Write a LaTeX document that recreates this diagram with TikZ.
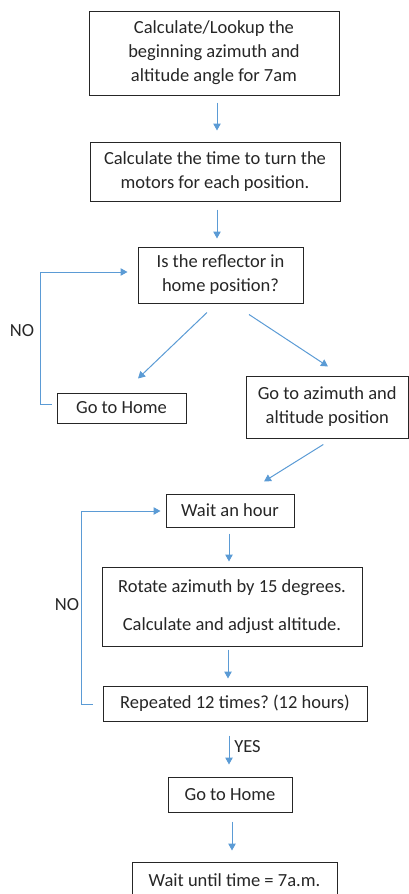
\documentclass[tikz,border=0pt]{standalone}
\usepackage{fontspec}
\setmainfont{Carlito}
\frenchspacing
\usetikzlibrary{arrows.meta,calc}
\definecolor{arrowblue}{RGB}{91,155,213}
\definecolor{txt}{RGB}{38,38,38}
\begin{document}
\begin{tikzpicture}[x=1pt,y=-1pt,
  box/.style={draw=black!85,line width=1pt,rectangle,inner sep=0pt,align=center,
     font=\fontsize{18.5}{24}\selectfont,text=txt},
  arr/.style={draw=arrowblue,line width=1pt,-{Triangle[length=7pt,width=7.5pt]}},
  lbl/.style={font=\fontsize{18.5}{24}\selectfont,text=txt,inner sep=0pt}]
\useasboundingbox (0,0) rectangle (409,894);
\clip (0,0) rectangle (409,894);
\node[box,minimum width=250,minimum height=84] (b1) at (214,53)
  {Calculate/Lookup the\\beginning azimuth and\\altitude angle for 7am};
\node[box,minimum width=250,minimum height=59] (b2) at (215,171.5)
  {Calculate the time to turn the\\motors for each position.};
\node[box,minimum width=165,minimum height=56] (b3) at (220.5,275)
  {Is the reflector in\\home position?};
\node[box,minimum width=129,minimum height=30] (gh1) at (121.5,408) {Go to Home};
\node[box,minimum width=162.5,minimum height=62] (az) at (327.25,407)
  {Go to azimuth and\\altitude position};
\node[box,minimum width=128,minimum height=33] (wait) at (230,510.5) {Wait an hour};
\node[box,minimum width=260,minimum height=79] (rot) at (232,606.5)
  {Rotate azimuth by 15 degrees.\\[14pt]Calculate and adjust altitude.};
\node[box,minimum width=264,minimum height=35] (rep) at (235,703.5)
  {Repeated 12 times? (12 hours)};
\node[box,minimum width=124,minimum height=35] (gh2) at (230,794.5) {Go to Home};
\node[box,minimum width=205,minimum height=36] (wu) at (234.5,880)
  {Wait until time = 7a.m.};
\node[lbl] (no1) at (22,331) {NO};
\node[lbl] (no2) at (67,605) {NO};
\node[lbl] (yes) at (247.5,747) {YES};
% connectors
\draw[arr] ($(b1.south)+(3,7)$) -- ($(b2.north)+(2,-11)$);
\draw[arr] ($(b2.south)+(2,8)$) -- ($(b3.north)+(-3.5,-8)$);
\draw[arr] ($(b3.south)+(-13.5,9)$) -- ($(gh1.north)+(16.5,-14)$);
\draw[arr] ($(b3.south)+(28.5,11)$) -- ($(az.north)+(0.75,-9)$);
\draw[arr] ($(gh1.west)+(-5,-4)$) -- ++(-11,0) |- ($(b3.west)+(-10,-3)$);
\draw[arr] ($(az.south)+(-4,6)$) -- ($(wait.north)+(34,-12)$);
\draw[arr] ($(wait.south)+(-1,6)$) -- ($(rot.north)+(-3,-5)$);
\draw[arr] ($(rot.south)+(-4,3)$) -- ($(rep.north)+(-7,-7)$);
\draw[arr] ($(rep.west)+(-10,0.5)$) -- ++(-11,0) |- ($(wait.west)+(-5,0.5)$);
\draw[arr] ($(rep.south)+(-6,14)$) -- ($(gh2.north)+(-1,-12)$);
\draw[arr] ($(gh2.south)+(2,9)$) -- ($(wu.north)+(-2.5,-11)$);
\end{tikzpicture}
\end{document}
